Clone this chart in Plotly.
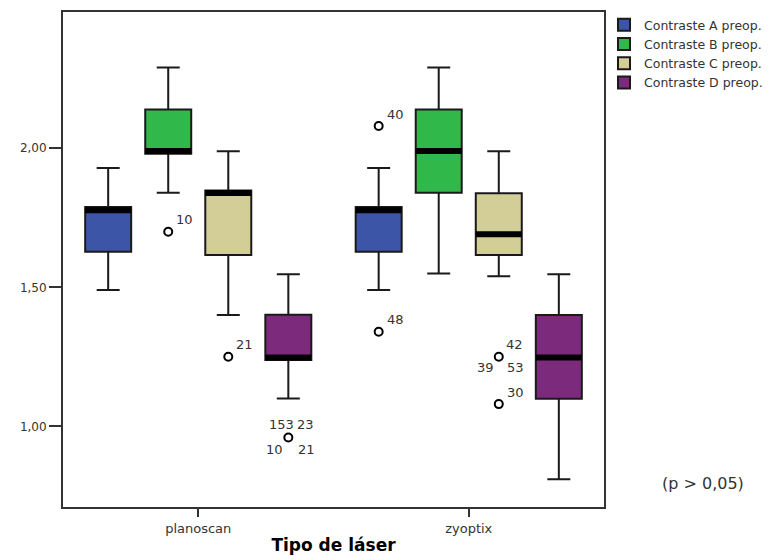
import plotly.graph_objects as go

# ---- data ----
categories = ["planoscan", "zyoptix"]
series_names = ["Contraste A preop.", "Contraste B preop.", "Contraste C preop.", "Contraste D preop."]
series_colors = ["#3D55A6", "#31B84A", "#D3CE97", "#7C2A7B"]

# per series: [planoscan, zyoptix]
lower_whisker = [[1.49, 1.49], [1.84, 1.55], [1.40, 1.54], [1.10, 0.81]]
q1_values     = [[1.628, 1.628], [1.98, 1.84], [1.616, 1.616], [1.239, 1.099]]
median_values = [[1.777, 1.777], [1.99, 1.99], [1.839, 1.691], [1.248, 1.248]]
q3_values     = [[1.789, 1.789], [2.139, 2.139], [1.848, 1.838], [1.401, 1.40]]
upper_whisker = [[1.929, 1.929], [2.29, 2.29], [1.989, 1.989], [1.547, 1.547]]

# outliers: category index, series index, value, case labels
outlier_cat    = [0, 0, 0, 1, 1, 1, 1]
outlier_series = [1, 2, 3, 0, 0, 2, 2]
outlier_value  = [1.70, 1.25, 0.96, 2.08, 1.34, 1.25, 1.08]
outlier_labels = [["10"], ["21"], ["153", "23", "10", "21"], ["40"], ["48"], ["42", "39", "53"], ["30"]]

# ---- layout helpers (style) ----
slot = 0.222
box_w = 0.17
FONT = "DejaVu Sans"
# label placements: (xanchor, xshift, yshift) for 1..4 labels around a point
placements = {
    1: [("left", 6, 12)],
    3: [("left", 5, 12), ("right", -3, -11), ("left", 6, -11)],
    4: [("right", 8, 13), ("left", 7, 13), ("right", -3, -12), ("left", 8, -12)],
}

def pos(cat, k):
    return cat + (k - 1.5) * slot

fig = go.Figure()

for k, name in enumerate(series_names):
    xs = [pos(c, k) for c in range(len(categories))]
    fig.add_trace(go.Box(
        name=name,
        x=xs,
        q1=q1_values[k], median=median_values[k], q3=q3_values[k],
        lowerfence=lower_whisker[k], upperfence=upper_whisker[k],
        width=box_w, whiskerwidth=0.5,
        fillcolor=series_colors[k],
        line=dict(color="#1a1a1a", width=2),
        boxpoints=False,
        hoverinfo="skip",
    ))

# thick median bars
for k in range(len(series_names)):
    for c in range(len(categories)):
        x0 = pos(c, k)
        fig.add_trace(go.Scatter(
            x=[x0 - box_w / 2, x0 + box_w / 2],
            y=[median_values[k][c]] * 2,
            mode="lines", line=dict(color="black", width=6),
            showlegend=False, hoverinfo="skip",
        ))

# outliers
ox = [pos(c, k) for c, k in zip(outlier_cat, outlier_series)]
fig.add_trace(go.Scatter(
    x=ox, y=outlier_value, mode="markers",
    marker=dict(symbol="circle-open", size=8, color="black", line=dict(width=2)),
    showlegend=False, hoverinfo="skip",
))

annotations = []
for x, y, labs in zip(ox, outlier_value, outlier_labels):
    for lab, (anc, xs_, ys_) in zip(labs, placements[len(labs)]):
        annotations.append(dict(
            x=x, y=y, xref="x", yref="y", text=lab, showarrow=False,
            xanchor=anc, yanchor="middle", xshift=xs_, yshift=ys_,
            font=dict(family=FONT, size=13, color="#333"),
        ))

annotations.append(dict(
    x=1.1035, y=0.048, xref="paper", yref="paper", text="(p > 0,05)",
    showarrow=False, xanchor="left", yanchor="middle",
    font=dict(family=FONT, size=16, color="#333"),
))

fig.update_layout(
    width=780, height=556,
    margin=dict(l=55, r=184, t=2, b=57),
    paper_bgcolor="white", plot_bgcolor="white",
    separators=",.",
    boxmode="overlay",
    showlegend=True,
    legend=dict(
        x=1.0, y=1.004, xanchor="left", yanchor="top",
        font=dict(family=FONT, size=12.5, color="#333"),
        tracegroupgap=0, itemwidth=30, bgcolor="rgba(0,0,0,0)",
    ),
    annotations=annotations,
    xaxis=dict(
        range=[-0.5, 1.5], tickvals=[0, 1], ticktext=categories,
        ticks="outside", ticklen=8, tickwidth=2, tickcolor="#333",
        showline=True, mirror=True, linecolor="#333", linewidth=2,
        showgrid=False, zeroline=False,
        tickfont=dict(family=FONT, size=13, color="#333"),
        title=dict(text="Tipo de láser", standoff=5,
                   font=dict(family=FONT, size=17, color="black", weight="bold")),
    ),
    yaxis=dict(
        range=[0.71, 2.49], tickvals=[1.0, 1.5, 2.0], tickformat=".2f",
        ticks="outside", ticklen=12, tickwidth=1.5, tickcolor="#333",
        showline=True, mirror=True, linecolor="#333", linewidth=2,
        showgrid=False, zeroline=False,
        tickfont=dict(family=FONT, size=12, color="#333"),
    ),
)

fig.write_html("out.html")
